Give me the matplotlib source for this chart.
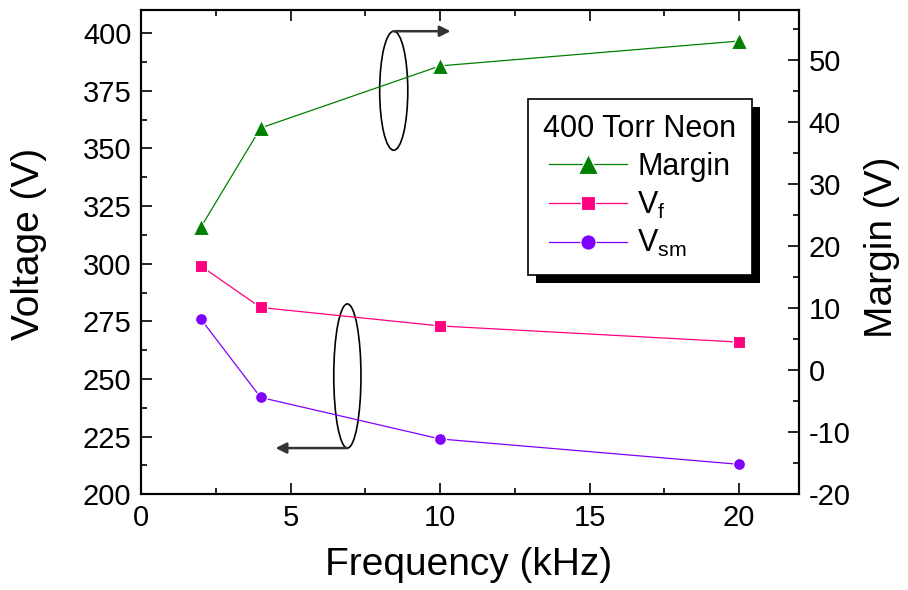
import matplotlib
matplotlib.use("Agg")
import matplotlib.pyplot as plt
from matplotlib.patches import Ellipse, Rectangle
from matplotlib.ticker import MultipleLocator

plt.rcParams['font.family'] = ['Liberation Sans', 'DejaVu Sans']
plt.rcParams['mathtext.fontset'] = 'custom'
plt.rcParams['mathtext.rm'] = 'Liberation Sans'
plt.rcParams['mathtext.it'] = 'Liberation Sans'
plt.rcParams['axes.unicode_minus'] = False

# 400 Torr neon cell, drive frequency sweep
freq_khz = [2, 4, 10, 20]
v_firing = [299, 281, 273, 266]
v_sustain_min = [276, 242, 224, 213]
margin = [23, 39, 49, 53]

legend_title = "400 Torr Neon"
legend_labels = ["Margin", r"V$_\mathregular{f}$", r"V$_\mathregular{sm}$"]

GREEN = "#008000"
PINK = "#FF0080"
VIOLET = "#8000FF"

fig = plt.figure(figsize=(9.08, 5.90), dpi=100)
ax = fig.add_axes([141 / 908, 95.7 / 590, 658 / 908, 484.3 / 590])
ax2 = ax.twinx()

mk = dict(markeredgecolor="white", markeredgewidth=0.8, linewidth=0.9)
l_vf, = ax.plot(freq_khz, v_firing, color=PINK, marker="s", markersize=8,
                markerfacecolor=PINK, **mk)
l_vsm, = ax.plot(freq_khz, v_sustain_min, color=VIOLET, marker="o", markersize=8.5,
                 markerfacecolor=VIOLET, **mk)
l_margin, = ax2.plot(freq_khz, margin, color=GREEN, marker="^", markersize=11,
                     markerfacecolor=GREEN, **mk)

ax.set_xlim(0, 22)
ax.set_ylim(200, 410)
ax2.set_ylim(-20, 58)

ax.xaxis.set_major_locator(MultipleLocator(5))
ax.xaxis.set_minor_locator(MultipleLocator(2.5))
ax.yaxis.set_major_locator(MultipleLocator(25))
ax.yaxis.set_minor_locator(MultipleLocator(12.5))
ax2.yaxis.set_major_locator(MultipleLocator(10))
ax2.yaxis.set_minor_locator(MultipleLocator(5))

for a in (ax, ax2):
    for s in a.spines.values():
        s.set_linewidth(1.5)
ax.tick_params(which="both", direction="in", top=True, right=False,
               labelsize=21, width=1.2, pad=7)
ax.tick_params(which="major", length=8)
ax.tick_params(which="minor", length=4.5)
ax2.tick_params(which="both", direction="in", labelsize=21, width=1.2, pad=7)
ax2.tick_params(which="major", length=8)
ax2.tick_params(which="minor", length=4.5)

fig.text(0.516, 0.043, "Frequency (kHz)", fontsize=28, ha="center", va="center")
fig.text(0.032, 0.586, "Voltage (V)", fontsize=28, rotation=90, ha="center", va="center")
fig.text(0.971, 0.580, "Margin (V)", fontsize=28, rotation=90, ha="center", va="center")

# ellipses marking which curves belong to which axis
ax.add_patch(Ellipse((8.45, 375), 0.94, 51.6, fill=False, ec="black", lw=1.2))
ax.annotate("", xy=(10.35, 400.8), xytext=(8.45, 400.8),
            arrowprops=dict(arrowstyle="-|>", color="#333333", lw=1.8,
                            mutation_scale=16, shrinkA=0, shrinkB=0))
ax.add_patch(Ellipse((6.9, 251.3), 0.91, 62.5, fill=False, ec="black", lw=1.2))
ax.annotate("", xy=(4.5, 220.05), xytext=(6.9, 220.05),
            arrowprops=dict(arrowstyle="-|>", color="#333333", lw=1.8,
                            mutation_scale=16, shrinkA=0, shrinkB=0))

leg = ax2.legend([l_margin, l_vf, l_vsm], legend_labels, title=legend_title,
                 loc="upper left", bbox_to_anchor=(528 / 908, 1 - 99 / 590),
                 bbox_transform=fig.transFigure, borderaxespad=0,
                 fancybox=False, edgecolor="black", framealpha=1,
                 fontsize=22, title_fontsize=22, handlelength=2.55,
                 handletextpad=0.33, markerscale=1.3, labelspacing=0.25,
                 borderpad=0.5)
leg.get_frame().set_linewidth(1.2)

# solid drop shadow behind the legend box
fig.canvas.draw()
bb = leg.get_window_extent().transformed(fig.transFigure.inverted())
shadow = Rectangle((bb.x0 + 8 / 908, bb.y0 - 8 / 590), bb.width, bb.height,
                   transform=fig.transFigure, facecolor="black", edgecolor="none",
                   zorder=leg.get_zorder() - 0.1, clip_on=False)
ax2.add_artist(shadow)

fig.savefig("out.png", dpi=100)
